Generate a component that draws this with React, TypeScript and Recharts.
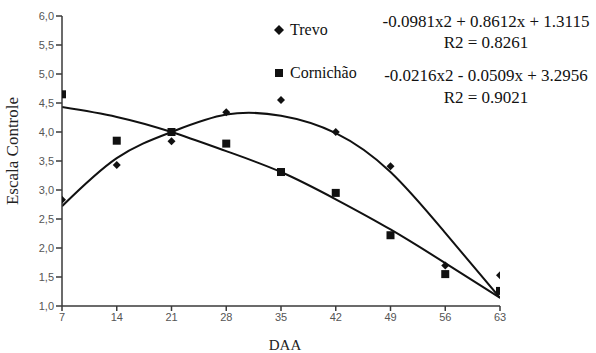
import {
  ComposedChart, Scatter, Line, XAxis, YAxis,
} from "recharts";

// DAA (days after application)
const days = [7, 14, 21, 28, 35, 42, 49, 56, 63];

// observed control scale
const trevoObs = [2.83, 3.43, 3.84, 4.34, 4.55, 4.0, 3.41, 1.7, 1.53];
const cornichaoObs = [4.65, 3.85, 4.0, 3.8, 3.31, 2.95, 2.22, 1.55, 1.26];

// polynomial trend lines
const trevoTrend = [2.72, 3.55, 4.0, 4.3, 4.28, 3.98, 3.31, 2.26, 1.14];
const cornichaoTrend = [4.43, 4.26, 4.0, 3.67, 3.31, 2.84, 2.32, 1.74, 1.14];

const yTicks = [1, 1.5, 2, 2.5, 3, 3.5, 4, 4.5, 5, 5.5, 6];

const equations = [
  { text: "-0.0981x2 + 0.8612x + 1.3115", y: 22 },
  { text: "R2 = 0.8261", y: 43 },
  { text: "-0.0216x2 - 0.0509x + 3.2956", y: 76 },
  { text: "R2 = 0.9021", y: 98 },
];

const trevoPts = days.map((d, i) => ({ x: d, y: trevoObs[i] }));
const cornPts = days.map((d, i) => ({ x: d, y: cornichaoObs[i] }));
const trevoLine = days.map((d, i) => ({ x: d, y: trevoTrend[i] }));
const cornLine = days.map((d, i) => ({ x: d, y: cornichaoTrend[i] }));

const axisColor = "#3a3a3a";
const tickStyle = { fontSize: 11, fill: "#555", fontFamily: "Liberation Sans, Arial, sans-serif" };
const serif = "Liberation Serif, 'Times New Roman', serif";

function Diamond({ cx, cy }: any) {
  const r = 4;
  return <path d={`M${cx},${cy - r}L${cx + r},${cy}L${cx},${cy + r}L${cx - r},${cy}Z`} fill="#111" />;
}

function Square({ cx, cy }: any) {
  return <rect x={cx - 4} y={cy - 4} width={8} height={8} fill="#111" />;
}

const fmt = (v: number) => v.toFixed(1).replace(".", ",");

export default function App() {
  return (
    <div style={{ position: "absolute", left: 0, top: 0, width: 596, height: 353, background: "#fff" }}>
      <ComposedChart width={596} height={353} margin={{ top: 16, right: 96, bottom: 17, left: 22 }}>
        <XAxis
          type="number" dataKey="x" domain={[7, 63]} ticks={days} allowDataOverflow
          stroke={axisColor} strokeWidth={1.5} tick={tickStyle} tickSize={5} height={30}
        />
        <YAxis
          type="number" dataKey="y" domain={[1, 6]} ticks={yTicks} tickFormatter={fmt}
          stroke={axisColor} strokeWidth={1.5} tick={tickStyle} tickSize={6} tickMargin={2} width={40}
        />
        <Line data={trevoLine} dataKey="y" type="natural" stroke="#111" strokeWidth={2} dot={false} isAnimationActive={false} />
        <Line data={cornLine} dataKey="y" type="natural" stroke="#111" strokeWidth={2} dot={false} isAnimationActive={false} />
        <Scatter data={trevoPts} dataKey="y" shape={<Diamond />} isAnimationActive={false} />
        <Scatter data={cornPts} dataKey="y" shape={<Square />} isAnimationActive={false} />
      </ComposedChart>

      {/* legend */}
      <div style={{ position: "absolute", left: 274, top: 21, fontFamily: serif, fontSize: 16, color: "#111", lineHeight: "18px" }}>
        <div style={{ display: "flex", alignItems: "center" }}>
          <svg width={10} height={10} style={{ marginRight: 6 }}><path d="M5,0L10,5L5,10L0,5Z" fill="#111" /></svg>
          Trevo
        </div>
        <div style={{ display: "flex", alignItems: "center", marginTop: 25 }}>
          <svg width={10} height={10} style={{ marginRight: 6 }}><rect x={1} y={1} width={8} height={8} fill="#111" /></svg>
          Cornichão
        </div>
      </div>

      {/* trend equations */}
      {equations.map((e) => (
        <div key={e.text} style={{ position: "absolute", left: 486, top: e.y, transform: "translate(-50%, -50%)", whiteSpace: "nowrap", fontFamily: serif, fontSize: 17, color: "#111" }}>
          {e.text}
        </div>
      ))}

      {/* axis titles */}
      <div style={{ position: "absolute", left: 13, top: 151, transform: "translate(-50%, -50%) rotate(-90deg)", whiteSpace: "nowrap", fontFamily: serif, fontSize: 17, color: "#222" }}>
        Escala Controle
      </div>
      <div style={{ position: "absolute", left: 285, top: 337, transform: "translateX(-50%)", fontFamily: serif, fontSize: 15, color: "#222" }}>
        DAA
      </div>
    </div>
  );
}
